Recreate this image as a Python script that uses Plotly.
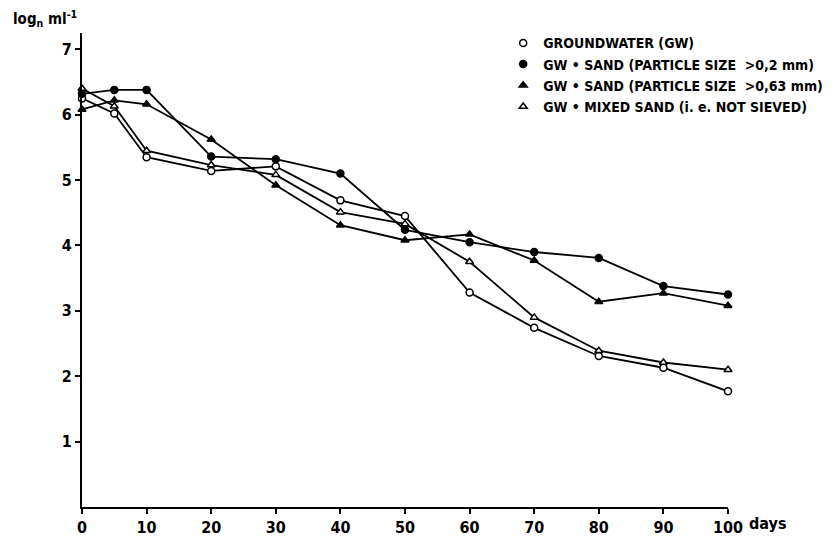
import plotly.graph_objects as go

days = [0, 5, 10, 20, 30, 40, 50, 60, 70, 80, 90, 100]

groundwater = [6.25, 6.02, 5.35, 5.14, 5.21, 4.69, 4.45, 3.28, 2.74, 2.31, 2.13, 1.77]
sand_02 = [6.32, 6.38, 6.38, 5.36, 5.32, 5.10, 4.24, 4.05, 3.90, 3.81, 3.38, 3.25]
sand_063 = [6.08, 6.22, 6.16, 5.62, 4.92, 4.31, 4.08, 4.17, 3.77, 3.14, 3.27, 3.08]
mixed_sand = [6.40, 6.13, 5.45, 5.23, 5.08, 4.51, 4.33, 3.75, 2.90, 2.39, 2.21, 2.10]

series = [
    ("GROUNDWATER (GW)", groundwater, "circle", "white"),
    ("GW • SAND (PARTICLE SIZE  >0,2 mm)", sand_02, "circle", "black"),
    ("GW • SAND (PARTICLE SIZE  >0,63 mm)", sand_063, "triangle-up", "black"),
    ("GW • MIXED SAND (i. e. NOT SIEVED)", mixed_sand, "triangle-up", "white"),
]

FONT = "DejaVu Sans Condensed"

fig = go.Figure()
for name, vals, sym, fill in series:
    fig.add_trace(go.Scatter(
        x=days, y=vals, mode="lines+markers", showlegend=False,
        line=dict(color="black", width=1.8),
        marker=dict(symbol=sym, size=7, color=fill, line=dict(color="black", width=1.5)),
        cliponaxis=False,
    ))
    # markers only for the legend
    fig.add_trace(go.Scatter(
        x=[None], y=[None], mode="markers", name=name,
        marker=dict(symbol=sym, size=7, color=fill, line=dict(color="black", width=1.5)),
    ))

fig.update_layout(
    width=832, height=541,
    margin=dict(l=74, r=105, t=25, b=33),
    paper_bgcolor="white", plot_bgcolor="white",
    font=dict(family=FONT, size=16, color="black", weight="bold"),
    legend=dict(
        x=0.652, y=1.012, xanchor="left", yanchor="top",
        font=dict(family=FONT, size=14, color="black", weight="bold"),
        itemwidth=30, tracegroupgap=0, bgcolor="rgba(0,0,0,0)",
    ),
)
fig.update_xaxes(
    range=[0, 100], tickvals=[0, 10, 20, 30, 40, 50, 60, 70, 80, 90, 100],
    showline=True, linecolor="black", linewidth=2, mirror=False,
    ticks="outside", ticklen=5, tickwidth=2, tickcolor="black",
    showgrid=False, zeroline=False,
)
fig.update_yaxes(
    range=[0, 7.25], tickvals=[1, 2, 3, 4, 5, 6, 7],
    showline=True, linecolor="black", linewidth=2,
    ticks="outside", ticklen=5, tickwidth=1.5, tickcolor="black",
    showgrid=False, zeroline=False,
)

fig.add_annotation(
    text="log<sub>n</sub> ml<sup>-1</sup>", xref="paper", yref="paper",
    x=-0.11, y=1.005, xanchor="left", yanchor="bottom", showarrow=False,
    font=dict(family=FONT, size=15, color="black", weight="bold"),
)
fig.add_annotation(
    text="days", xref="x", yref="paper", x=100, y=0, xanchor="left", yanchor="top",
    xshift=19, yshift=-5, showarrow=False,
    font=dict(family=FONT, size=16, color="black", weight="bold"),
)

fig.write_html("out.html")
